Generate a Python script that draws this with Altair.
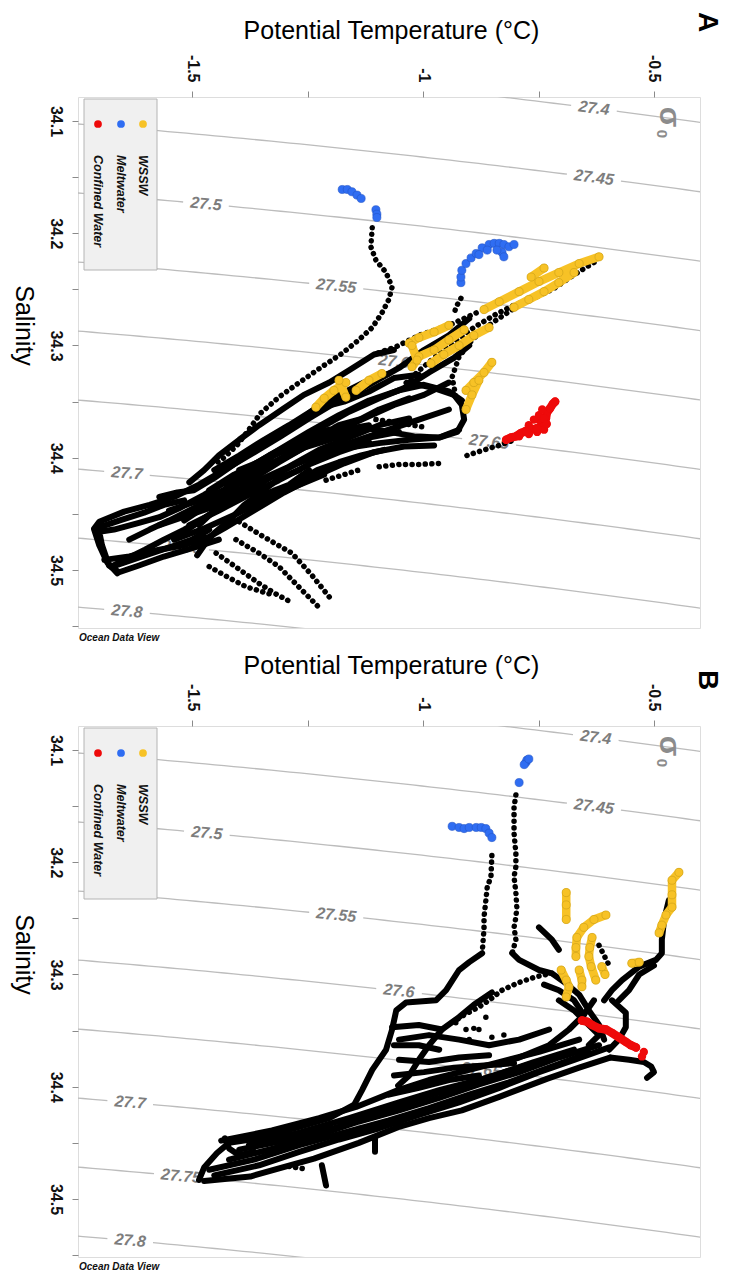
import altair as alt
import numpy as np
import pandas as pd

# ---------------- axes / labels ----------------
T_DOMAIN = [-1.747, -0.4004]
S_DOMAIN = [34.0786, 34.5517]
T_TICKS = [-1.5, -1.25, -1.0, -0.75, -0.5]
S_TICKS = [34.1, 34.15, 34.2, 34.25, 34.3, 34.35, 34.4, 34.45, 34.5, 34.55]
SIGMA_LEVELS = [27.4, 27.45, 27.5, 27.55, 27.6, 27.65, 27.7, 27.75, 27.8]
LABEL_T_A = [-0.630, -0.630, -1.470, -1.188, -1.063, -0.857, -1.641, -1.522, -1.641]
LABEL_T_B = [-0.626, -0.630, -1.468, -1.188, -1.052, -0.874, -1.634, -1.524, -1.634]
LEGEND_NAMES = ["Confined Water", "Meltwater", "WSSW"]
LEGEND_COLORS = ["#EE0A0A", "#2F6DF2", "#F7C226"]

W, H = 622, 531

# ---------------- panel A data (T, S) ----------------
A_SOLID = {
    "s1": ([-0.900, -0.944, -0.998, -1.052, -1.117, -1.182, -1.247, -1.312, -1.377, -1.431, -1.485, -1.539, -1.592, -1.647, -1.701, -1.712],
           [34.276, 34.291, 34.304, 34.320, 34.335, 34.349, 34.365, 34.382, 34.398, 34.411, 34.424, 34.435, 34.442, 34.448, 34.457, 34.463]),
    "s2": ([-0.916, -0.944, -0.998, -1.052, -1.117, -1.182, -1.247, -1.312, -1.366, -1.420, -1.474, -1.528, -1.571, -1.615, -1.669, -1.701, -1.695, -1.680, -1.658, -1.615, -1.561, -1.496, -1.442],
           [34.349, 34.341, 34.335, 34.340, 34.349, 34.362, 34.377, 34.393, 34.406, 34.420, 34.433, 34.445, 34.453, 34.458, 34.464, 34.466, 34.478, 34.496, 34.502, 34.496, 34.488, 34.480, 34.473]),
    "s3": ([-0.922, -0.965, -1.030, -1.095, -1.160, -1.225, -1.279, -1.333, -1.387, -1.431, -1.474, -1.517, -1.561, -1.602, -1.647, -1.675],
           [34.375, 34.382, 34.384, 34.387, 34.391, 34.398, 34.406, 34.418, 34.431, 34.442, 34.454, 34.464, 34.473, 34.482, 34.491, 34.497]),
    "s4": ([-1.009, -1.063, -1.117, -1.171, -1.236, -1.290, -1.351, -1.403, -1.452, -1.496, -1.532, -1.571],
           [34.326, 34.329, 34.341, 34.350, 34.357, 34.374, 34.390, 34.404, 34.418, 34.429, 34.431, 34.435]),
    "s5": ([-1.030, -0.976, -0.933, -0.916, -0.911, -0.926, -0.965, -1.019, -1.074, -1.117, -1.160, -1.203, -1.258, -1.312, -1.366, -1.409, -1.452, -1.485],
           [34.333, 34.338, 34.344, 34.353, 34.366, 34.377, 34.382, 34.381, 34.377, 34.374, 34.378, 34.384, 34.391, 34.404, 34.418, 34.433, 34.447, 34.460]),
    "s6": ([-1.063, -1.106, -1.160, -1.203, -1.258, -1.301, -1.355, -1.398, -1.442, -1.474, -1.506],
           [34.304, 34.308, 34.322, 34.333, 34.344, 34.356, 34.371, 34.384, 34.398, 34.411, 34.422]),
    "s7": ([-1.268, -1.312, -1.344, -1.387, -1.420, -1.452, -1.474, -1.489],
           [34.411, 34.418, 34.429, 34.442, 34.456, 34.467, 34.478, 34.487]),
    "s8": ([-1.139, -1.182, -1.229, -1.273, -1.323, -1.366, -1.398],
           [34.366, 34.371, 34.382, 34.389, 34.398, 34.411, 34.420]),
    "s9": ([-1.203, -1.268, -1.333, -1.387, -1.431, -1.463, -1.506, -1.550, -1.592, -1.636],
           [34.375, 34.384, 34.398, 34.411, 34.429, 34.438, 34.447, 34.456, 34.464, 34.473]),
    "s10": ([-1.673, -1.608, -1.550, -1.500, -1.463],
            [34.497, 34.488, 34.480, 34.473, 34.464]),
    "n1": ([-1.517, -1.452, -1.387, -1.323, -1.258, -1.193, -1.128, -1.063, -0.998, -0.944],
           [34.456, 34.438, 34.420, 34.404, 34.390, 34.377, 34.365, 34.353, 34.344, 34.333]),
    "n2": ([-1.528, -1.463, -1.398, -1.333, -1.268, -1.203, -1.139, -1.074, -1.009, -0.944],
           [34.469, 34.451, 34.435, 34.418, 34.404, 34.393, 34.384, 34.375, 34.366, 34.357]),
    "n3": ([-1.496, -1.431, -1.366, -1.301, -1.236, -1.171, -1.106, -1.041, -0.976],
           [34.478, 34.463, 34.447, 34.431, 34.417, 34.405, 34.395, 34.390, 34.389]),
    "n4": ([-1.550, -1.485, -1.420, -1.355, -1.290, -1.225, -1.160, -1.095, -1.030],
           [34.447, 34.438, 34.427, 34.411, 34.398, 34.384, 34.371, 34.357, 34.347]),
    "n5": ([-1.571, -1.506, -1.442, -1.377, -1.312, -1.247, -1.182, -1.117, -1.052],
           [34.460, 34.451, 34.442, 34.429, 34.413, 34.400, 34.390, 34.382, 34.377]),
    "n6": ([-1.398, -1.344, -1.290, -1.225, -1.160, -1.095, -1.041, -0.987, -0.933, -0.900],
           [34.411, 34.402, 34.389, 34.374, 34.359, 34.347, 34.338, 34.324, 34.311, 34.300]),
    "n7": ([-1.463, -1.409, -1.355, -1.290, -1.225, -1.171, -1.117],
           [34.429, 34.415, 34.404, 34.391, 34.382, 34.375, 34.371]),
    "n8": ([-1.708, -1.658, -1.604, -1.561, -1.517], [34.463, 34.456, 34.449, 34.442, 34.438]),
    "n9": ([-1.690, -1.636, -1.571, -1.517, -1.474], [34.491, 34.488, 34.482, 34.478, 34.471]),
    "n10": ([-1.712, -1.701, -1.684, -1.662], [34.464, 34.478, 34.493, 34.503]),
    "n11": ([-1.312, -1.268, -1.229, -1.182, -1.134, -1.084], [34.433, 34.420, 34.411, 34.404, 34.398, 34.393]),
    "n12": ([-1.377, -1.333, -1.290, -1.247], [34.442, 34.431, 34.424, 34.411]),
    "m1": ([-1.506, -1.442, -1.377, -1.312, -1.247, -1.182, -1.117],
           [34.460, 34.447, 34.433, 34.420, 34.406, 34.395, 34.386]),
    "m2": ([-1.485, -1.420, -1.355, -1.290, -1.225, -1.160, -1.095, -1.030],
           [34.447, 34.433, 34.420, 34.408, 34.393, 34.382, 34.371, 34.365]),
    "m3": ([-1.539, -1.474, -1.409, -1.344, -1.279, -1.214],
           [34.473, 34.463, 34.451, 34.438, 34.426, 34.415]),
    "m4": ([-1.452, -1.398, -1.344, -1.290, -1.236, -1.182, -1.128, -1.074],
           [34.411, 34.398, 34.384, 34.371, 34.357, 34.344, 34.333, 34.325]),
}
A_DOTTED = {
    "d1": ([-1.110, -1.113, -1.102, -1.080, -1.067, -1.074, -1.089, -1.110, -1.139, -1.175, -1.219, -1.268, -1.312, -1.351, -1.377, -1.403, -1.431, -1.452],
           [34.195, 34.212, 34.224, 34.235, 34.248, 34.259, 34.271, 34.284, 34.295, 34.307, 34.319, 34.333, 34.346, 34.360, 34.375, 34.389, 34.400, 34.406]),
    "d2": ([-1.398, -1.351, -1.284, -1.242, -1.203], [34.457, 34.469, 34.485, 34.504, 34.524]),
    "d3": ([-1.405, -1.359, -1.312, -1.262, -1.219], [34.473, 34.484, 34.497, 34.518, 34.536]),
    "d4": ([-1.448, -1.403, -1.355, -1.316, -1.284], [34.485, 34.498, 34.512, 34.522, 34.529]),
    "d5": ([-1.463, -1.420, -1.383, -1.327], [34.497, 34.507, 34.515, 34.522]),
    "d6": ([-0.905, -0.868, -0.835, -0.801], [34.398, 34.393, 34.389, 34.384]),
    "d7": ([-1.095, -1.052, -1.009, -0.965], [34.408, 34.406, 34.406, 34.405]),
    "d8": ([-1.210, -1.171, -1.139], [34.420, 34.415, 34.411]),
    "d9": ([-0.630, -0.673, -0.716, -0.760, -0.803, -0.846, -0.890, -0.933, -0.976, -1.013, -1.041],
           [34.226, 34.237, 34.249, 34.258, 34.264, 34.273, 34.284, 34.297, 34.311, 34.324, 34.335]),
    "d10": ([-0.807, -0.851, -0.894, -0.922, -0.937, -0.929], [34.268, 34.280, 34.295, 34.310, 34.328, 34.346]),
    "d11": ([-0.885, -0.944, -1.009, -1.058, -1.106], [34.271, 34.282, 34.291, 34.301, 34.308]),
    "d12": ([-0.918, -0.929, -0.933], [34.258, 34.266, 34.273]),
    "d13": ([-1.102, -1.052, -0.994], [34.366, 34.369, 34.373]),
}
A_POINTS = ([], [])
A_YELLOW = {
    "y1a": ([-0.619, -0.662, -0.706, -0.749, -0.792, -0.835, -0.868], [34.221, 34.227, 34.235, 34.243, 34.252, 34.261, 34.268]),
    "y1b": ([-0.673, -0.706, -0.738, -0.771, -0.803], [34.235, 34.244, 34.252, 34.259, 34.266]),
    "y1c": ([-0.738, -0.766], [34.231, 34.239]),
    "y2a": ([-0.944, -0.976, -1.009, -1.030], [34.282, 34.288, 34.293, 34.298]),
    "y2b": ([-0.911, -0.944, -0.976, -1.009], [34.286, 34.295, 34.304, 34.310]),
    "y2c": ([-0.857, -0.890, -0.922, -0.955, -0.983], [34.284, 34.291, 34.300, 34.308, 34.316]),
    "y2d": ([-1.024, -1.013, -1.024], [34.300, 34.313, 34.319]),
    "y3a": ([-1.089, -1.117, -1.145], [34.325, 34.331, 34.340]),
    "y3b": ([-1.167, -1.193, -1.214, -1.232], [34.333, 34.340, 34.347, 34.355]),
    "y3c": ([-1.182, -1.167], [34.331, 34.346]),
    "y4a": ([-0.851, -0.868, -0.890, -0.907], [34.315, 34.324, 34.333, 34.340]),
    "y4b": ([-0.879, -0.894, -0.907], [34.331, 34.344, 34.357]),
}
A_BLUE_T = [-1.175, -1.164, -1.154, -1.143, -1.134, -1.102, -1.100, -1.100,
            -0.918, -0.918, -0.916, -0.907, -0.896, -0.885, -0.872, -0.857, -0.846, -0.835,
            -0.825, -0.814, -0.829, -0.840, -0.825, -0.803, -0.861, -0.879]
A_BLUE_S = [34.161, 34.161, 34.163, 34.166, 34.169, 34.179, 34.183, 34.186,
            34.244, 34.239, 34.233, 34.227, 34.222, 34.218, 34.213, 34.210, 34.209, 34.209,
            34.210, 34.212, 34.217, 34.215, 34.221, 34.210, 34.215, 34.219]
A_RED_T = [-0.820, -0.810, -0.799, -0.788, -0.777, -0.766, -0.755, -0.745, -0.738, -0.734, -0.732, -0.725, -0.719, -0.714,
           -0.753, -0.738, -0.771, -0.749, -0.771, -0.760, -0.749, -0.738, -0.753, -0.775, -0.792, -0.732, -0.742]
A_RED_S = [34.384, 34.382, 34.381, 34.378, 34.376, 34.375, 34.374, 34.372, 34.369, 34.365, 34.360, 34.356, 34.352, 34.350,
           34.377, 34.375, 34.379, 34.366, 34.371, 34.366, 34.362, 34.365, 34.374, 34.377, 34.381, 34.370, 34.357]

# ---------------- panel B data (T, S) ----------------
B_SOLID = {
    "s1": ([-0.872, -0.900, -0.922, -0.950, -0.972, -1.037, -1.058, -1.067, -1.080, -1.110, -1.132, -1.149, -1.203, -1.279, -1.355, -1.420, -1.446, -1.474, -1.485],
           [34.281, 34.289, 34.296, 34.314, 34.323, 34.325, 34.332, 34.349, 34.367, 34.385, 34.403, 34.416, 34.428, 34.437, 34.446, 34.450, 34.459, 34.472, 34.483]),
    "s2": ([-1.474, -1.374, -1.236, -1.139, -1.054, -0.987, -0.916, -0.835, -0.732, -0.662, -0.595],
           [34.484, 34.480, 34.464, 34.450, 34.436, 34.428, 34.421, 34.409, 34.393, 34.383, 34.374]),
    "s3": ([-1.452, -1.355, -1.268, -1.182, -1.095, -1.009, -0.922, -0.835, -0.749, -0.673, -0.597],
           [34.479, 34.470, 34.458, 34.447, 34.437, 34.425, 34.414, 34.401, 34.387, 34.376, 34.365]),
    "s4": ([-1.437, -1.327, -1.225, -1.145, -1.054, -0.987, -0.900, -0.835, -0.749, -0.662],
           [34.448, 34.439, 34.428, 34.418, 34.403, 34.394, 34.385, 34.378, 34.369, 34.358]),
    "s5": ([-0.851, -0.890, -0.922, -0.959, -0.987, -1.009, -1.030, -1.054],
           [34.316, 34.327, 34.338, 34.349, 34.363, 34.376, 34.390, 34.399]),
    "s6": ([-0.807, -0.792, -0.749, -0.721, -0.690, -0.662, -0.641, -0.619, -0.608],
           [34.281, 34.287, 34.296, 34.299, 34.308, 34.318, 34.332, 34.345, 34.358]),
    "s7": ([-0.468, -0.478, -0.483, -0.483, -0.496, -0.532, -0.569, -0.591, -0.608],
           [34.234, 34.251, 34.269, 34.281, 34.287, 34.293, 34.305, 34.314, 34.323]),
    "s8": ([-0.591, -0.561, -0.561, -0.576, -0.597], [34.323, 34.334, 34.347, 34.358, 34.367]),
    "s9": ([-0.595, -0.554, -0.522, -0.506, -0.500, -0.515], [34.374, 34.376, 34.378, 34.382, 34.387, 34.392]),
    "s10a": ([-1.067, -1.009, -0.959], [34.347, 34.345, 34.349]),
    "s10b": ([-1.063, -1.009, -0.965], [34.363, 34.363, 34.367]),
    "s10c": ([-1.052, -0.987, -0.922, -0.857], [34.376, 34.378, 34.374, 34.372]),
    "s11": ([-1.429, -1.420, -1.398, -1.366], [34.446, 34.455, 34.461, 34.458]),
    "s12a": ([-1.219, -1.210], [34.470, 34.488]),
    "s12b": ([-1.104, -1.104], [34.446, 34.458]),
    "s13": ([-0.835, -0.792, -0.727, -0.684, -0.652, -0.630], [34.379, 34.374, 34.363, 34.349, 34.336, 34.323]),
    "s14": ([-0.749, -0.721, -0.706], [34.258, 34.269, 34.278]),
    "b1": ([-1.463, -1.366, -1.268, -1.171, -1.074, -0.987, -0.900, -0.814, -0.727, -0.641],
           [34.474, 34.465, 34.452, 34.441, 34.430, 34.419, 34.407, 34.396, 34.383, 34.370]),
    "b2": ([-1.420, -1.323, -1.225, -1.139, -1.052, -0.965, -0.879, -0.792, -0.706, -0.619],
           [34.465, 34.455, 34.443, 34.431, 34.421, 34.410, 34.398, 34.387, 34.374, 34.363]),
    "b3": ([-1.398, -1.290, -1.193, -1.106, -1.019, -0.933, -0.846, -0.760, -0.673],
           [34.456, 34.447, 34.437, 34.425, 34.412, 34.401, 34.390, 34.378, 34.367]),
    "b4": ([-1.377, -1.268, -1.160, -1.052, -0.965, -0.879, -0.792, -0.706],
           [34.452, 34.441, 34.428, 34.414, 34.403, 34.394, 34.383, 34.372]),
    "b5": ([-1.052, -0.987, -0.922, -0.857, -0.792, -0.727], [34.358, 34.354, 34.358, 34.363, 34.358, 34.349]),
    "b6": ([-1.063, -0.998, -0.933, -0.868, -0.803], [34.390, 34.387, 34.383, 34.381, 34.379]),
    "b7": ([-1.074, -1.009, -0.944, -0.879], [34.407, 34.401, 34.394, 34.390]),
    "b8": ([-0.706, -0.673, -0.641, -0.619, -0.641], [34.323, 34.332, 34.345, 34.354, 34.363]),
    "b9": ([-0.738, -0.706, -0.673, -0.652], [34.309, 34.314, 34.323, 34.336]),
    "b10": ([-0.576, -0.554, -0.532, -0.500], [34.323, 34.314, 34.300, 34.292]),
}
B_DOTTED = {
    "d1": ([-0.799, -0.803, -0.803, -0.803, -0.799, -0.799, -0.803, -0.799, -0.797, -0.799, -0.803, -0.799, -0.807],
           [34.140, 34.151, 34.164, 34.174, 34.192, 34.204, 34.213, 34.227, 34.240, 34.249, 34.258, 34.269, 34.281]),
    "d2": ([-0.851, -0.853, -0.861, -0.864, -0.868, -0.868, -0.872], [34.194, 34.213, 34.222, 34.234, 34.249, 34.259, 34.281]),
    "d3": ([-0.721, -0.755, -0.792, -0.829, -0.857, -0.879, -0.911, -0.933], [34.299, 34.302, 34.307, 34.314, 34.323, 34.329, 34.336, 34.342]),
    "d6": ([-1.290, -1.260], [34.471, 34.473]),
    "d7": ([-0.619, -0.608, -0.597], [34.274, 34.283, 34.292]),
}
B_POINTS = ([-0.864, -0.879, -0.907, -0.929, -0.890, -0.851, -0.900, -0.825],
            [34.338, 34.349, 34.349, 34.343, 34.348, 34.356, 34.358, 34.354])
B_YELLOW = {
    "y1": ([-0.446, -0.461, -0.461, -0.461, -0.474, -0.483, -0.489], [34.209, 34.216, 34.229, 34.240, 34.247, 34.256, 34.263]),
    "y2": ([-0.690, -0.690, -0.690], [34.227, 34.238, 34.251]),
    "y3": ([-0.604, -0.630, -0.652, -0.667, -0.669, -0.669], [34.247, 34.251, 34.258, 34.267, 34.276, 34.284]),
    "y4": ([-0.634, -0.639, -0.641, -0.636, -0.626], [34.267, 34.276, 34.284, 34.293, 34.305]),
    "y5": ([-0.701, -0.690, -0.684, -0.690], [34.296, 34.305, 34.311, 34.320]),
    "y6": ([-0.662, -0.656, -0.656], [34.296, 34.305, 34.311]),
    "y7": ([-0.548, -0.532], [34.290, 34.289]),
    "y8": ([-0.613, -0.606], [34.293, 34.300]),
}
B_BLUE_T = [-0.777, -0.775, -0.781, -0.771, -0.792, -0.937, -0.922, -0.911, -0.900, -0.885, -0.874, -0.864, -0.857, -0.851]
B_BLUE_S = [34.111, 34.109, 34.113, 34.108, 34.129, 34.168, 34.169, 34.170, 34.169, 34.169, 34.169, 34.170, 34.174, 34.178]
B_RED_T = [-0.656, -0.645, -0.634, -0.619, -0.604, -0.591, -0.576, -0.561, -0.550, -0.539, -0.526, -0.522]
B_RED_S = [34.341, 34.342, 34.345, 34.348, 34.349, 34.352, 34.356, 34.360, 34.363, 34.365, 34.373, 34.369]


# ---------------- sea-water density (UNESCO EOS-80, p = 0) ----------------
def _coef(T):
    a = 8.24493e-1 - 4.0899e-3 * T + 7.6438e-5 * T**2 - 8.2467e-7 * T**3 + 5.3875e-9 * T**4
    b = -5.72466e-3 + 1.0227e-4 * T - 1.6546e-6 * T**2
    return a, b, 4.8314e-4


def sigma0(S, T):
    rw = (999.842594 + 6.793952e-2 * T - 9.095290e-3 * T**2 + 1.001685e-4 * T**3
          - 1.120083e-6 * T**4 + 6.536332e-9 * T**5)
    a, b, c = _coef(T)
    return rw + a * S + b * S**1.5 + c * S**2 - 1000.0


def salinity_for(sig, T):
    T = np.asarray(T, dtype=float)
    S = np.full_like(T, 34.3)
    a, b, c = _coef(T)
    for _ in range(25):
        S = S - (sigma0(S, T) - sig) / (a + 1.5 * b * np.sqrt(S) + 2 * c * S)
    return S


def isopycnal_frames(label_ts):
    px_t = W / (T_DOMAIN[1] - T_DOMAIN[0])
    px_s = H / (S_DOMAIN[1] - S_DOMAIN[0])
    grid = np.linspace(T_DOMAIN[0] - 0.03, T_DOMAIN[1] + 0.03, 70)
    lines, labels = [], []
    for lev, tl in zip(SIGMA_LEVELS, label_ts):
        txt = f"{lev:g}"
        half = (len(txt) * 4.2 + 6) / px_t
        s3 = salinity_for(lev, [tl - 0.01, tl, tl + 0.01])
        ang = float(np.degrees(np.arctan((s3[2] - s3[0]) / 0.02 * px_s / px_t)))
        labels.append(dict(T=tl, S=float(s3[1]), txt=txt, ang=ang))
        left = np.append(grid[grid < tl - half], tl - half)
        right = np.insert(grid[grid > tl + half], 0, tl + half)
        for part, ts in (("a", left), ("b", right)):
            ss = salinity_for(lev, ts)
            for i, (t, s) in enumerate(zip(ts, ss)):
                lines.append(dict(T=float(t), S=float(s), id=f"{txt}{part}", i=i))
    return pd.DataFrame(lines), pd.DataFrame(labels)


def traces_df(d):
    rows = []
    for name, (ts, ss) in d.items():
        for i, (t, s) in enumerate(zip(ts, ss)):
            rows.append(dict(T=t, S=s, id=name, i=i))
    return pd.DataFrame(rows)


def pts_df(ts, ss):
    return pd.DataFrame(dict(T=ts, S=ss))


FONT = "Liberation Sans"
ONE = pd.DataFrame({"d": [0]})


def encodings(title_y):
    x_axis = alt.Axis(
        orient="top", values=T_TICKS,
        labelExpr="datum.value == -1.5 ? '-1.5' : (datum.value == -1 ? '-1' : (datum.value == -0.5 ? '-0.5' : ''))",
        labelAngle=90, labelAlign="right", labelBaseline="middle", labelFont=FONT,
        labelFontSize=16, labelFontWeight="bold", labelColor="#111111", labelPadding=9,
        labelFlush=False, labelOverlap=False, tickSize=6, tickColor="#8a8a8a", tickWidth=1,
        domain=False, grid=False, title="Potential Temperature (°C)", titleFont=FONT,
        titleFontSize=25, titleFontWeight="normal", titleColor="#000000",
        titleX=W / 2 + 2, titleY=title_y, titleAlign="center", titleBaseline="middle", titleAngle=0,
    )
    y_axis = alt.Axis(
        orient="left", values=S_TICKS,
        labelExpr="abs(datum.value*10 - round(datum.value*10)) < 0.001 ? format(datum.value, '.1f') : ''",
        labelAngle=90, labelAlign="center", labelBaseline="top", labelFont=FONT,
        labelFontSize=16, labelFontWeight="bold", labelColor="#111111", labelPadding=9,
        labelFlush=False, labelOverlap=False, tickSize=6, tickColor="#8a8a8a", tickWidth=1,
        domain=False, grid=False, title="Salinity", titleFont=FONT, titleFontSize=25,
        titleFontWeight="normal", titleColor="#000000", titleAngle=90,
        titleX=-55, titleY=228, titleAlign="center", titleBaseline="middle",
    )
    X = alt.X("T:Q", scale=alt.Scale(domain=T_DOMAIN, nice=False, zero=False), axis=x_axis)
    Y = alt.Y("S:Q", scale=alt.Scale(domain=S_DOMAIN, reverse=True, nice=False, zero=False), axis=y_axis)
    return X, Y


def const_text(txt, x, y, **kw):
    return alt.Chart(ONE).mark_text(text=txt, font=FONT, **kw).encode(x=alt.value(x), y=alt.value(y))


def panel(solid, dotted, points, yellow, blue_t, blue_s, red_t, red_s, n_red_line, label_ts,
          letter, letter_y, title_y):
    X, Y = encodings(title_y)
    iso_lines, iso_labels = isopycnal_frames(label_ts)
    layers = [
        alt.Chart(iso_lines).mark_line(color="#bcbcbc", strokeWidth=1.3, clip=True).encode(
            x=X, y=Y, detail="id:N", order="i:Q"),
        alt.Chart(iso_labels).mark_text(font=FONT, fontSize=16, fontStyle="italic", fontWeight="bold",
                                        color="#7d7d7d", align="center", baseline="middle").encode(
            x=X, y=Y, text="txt:N", angle=alt.Angle("ang:Q", scale=None)),
        const_text("σ", 591, 20, fontSize=30, fontWeight="bold", color="#8c8c8c", angle=90,
                   align="center", baseline="middle"),
        const_text("0", 584, 37, fontSize=15, fontWeight="bold", color="#8c8c8c", angle=90,
                   align="center", baseline="middle"),
        alt.Chart(ONE).mark_rect(fill="#f0f0f0", stroke="#b4b4b4", strokeWidth=1).encode(
            x=alt.value(6), x2=alt.value(79), y=alt.value(2), y2=alt.value(173)),
    ]
    for name, col, lx in zip(LEGEND_NAMES, LEGEND_COLORS, [20, 43, 65]):
        layers.append(alt.Chart(ONE).mark_point(filled=True, size=60, color=col, opacity=1).encode(
            x=alt.value(lx), y=alt.value(27)))
        layers.append(const_text(name, lx, 58, fontSize=12.5, fontStyle="italic", fontWeight="bold",
                                 color="#111111", angle=90, align="left", baseline="middle"))
    layers += [
        alt.Chart(traces_df(dotted)).mark_line(color="black", strokeWidth=5.5, strokeCap="round",
                                               strokeDash=[0.1, 6.5]).encode(
            x=X, y=Y, detail="id:N", order="i:Q"),
        alt.Chart(traces_df(solid)).mark_line(color="black", strokeWidth=6, strokeCap="round",
                                              strokeJoin="round").encode(
            x=X, y=Y, detail="id:N", order="i:Q"),
    ]
    if len(points[0]):
        layers.append(alt.Chart(pts_df(*points)).mark_circle(color="black", size=30, opacity=1).encode(x=X, y=Y))
    ydf = traces_df(yellow)
    layers += [
        alt.Chart(ydf).mark_line(color=LEGEND_COLORS[2], strokeWidth=8.5, strokeCap="round",
                                 strokeJoin="round").encode(x=X, y=Y, detail="id:N", order="i:Q"),
        alt.Chart(ydf).mark_circle(color=LEGEND_COLORS[2], size=66, opacity=1, stroke="#c99d18",
                                   strokeWidth=0.6).encode(x=X, y=Y),
        alt.Chart(pts_df(blue_t, blue_s)).mark_circle(color=LEGEND_COLORS[1], size=66, opacity=1,
                                                      stroke="#2456c8", strokeWidth=0.6).encode(x=X, y=Y),
        alt.Chart(traces_df({"r": (red_t[:n_red_line], red_s[:n_red_line])})).mark_line(
            color=LEGEND_COLORS[0], strokeWidth=8.5, strokeCap="round", strokeJoin="round").encode(
            x=X, y=Y, detail="id:N", order="i:Q"),
        alt.Chart(pts_df(red_t, red_s)).mark_circle(color=LEGEND_COLORS[0], size=70, opacity=1).encode(x=X, y=Y),
        const_text(letter, W + 7, letter_y, fontSize=28, fontWeight="bold", color="#000000", angle=90,
                   align="center", baseline="middle"),
        const_text("Ocean Data View", 1, H + 10, fontSize=10, fontStyle="italic", fontWeight="bold",
                   color="#111111", align="left", baseline="middle"),
    ]
    return alt.layer(*layers).properties(width=W, height=H)


panel_a = panel(A_SOLID, A_DOTTED, A_POINTS, A_YELLOW, A_BLUE_T, A_BLUE_S, A_RED_T, A_RED_S, 14,
                LABEL_T_A, "A", -75, -67)
panel_b = panel(B_SOLID, B_DOTTED, B_POINTS, B_YELLOW, B_BLUE_T, B_BLUE_S, B_RED_T, B_RED_S, 10,
                LABEL_T_B, "B", -46, -61)

chart = alt.VConcatChart(
    vconcat=[panel_a, panel_b], spacing=8,
    padding={"left": 9, "top": 11, "right": 6, "bottom": 0},
    background="white",
).configure_view(stroke="#1c1c1c", strokeWidth=2).configure(font=FONT)

chart.save("out.html", embed_options={"renderer": "svg", "actions": False})
